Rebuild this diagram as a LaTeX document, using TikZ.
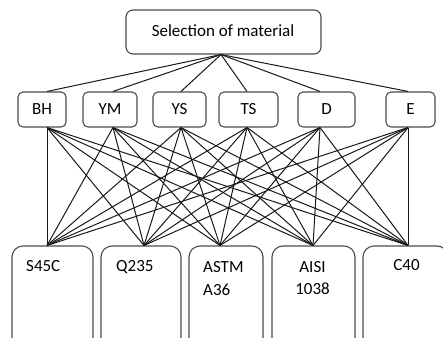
\documentclass[tikz,border=0pt]{standalone}
\usepackage{fontspec}
\setmainfont{Carlito}
\begin{document}
\begin{tikzpicture}[x=1pt,y=-1pt,
  box/.style={draw=black!70,line width=1.1pt,rounded corners=#1,inner sep=0pt},
  box/.default=5pt,
  lbl/.style={font=\fontsize{17}{22.5}\selectfont,inner sep=0pt},
  link/.style={line width=1pt,black!90}]
\useasboundingbox (0,0) rectangle (443,337);
\clip (0,0) rectangle (443,337);

% goal
\node[box=7pt,minimum width=195pt,minimum height=44pt] (goal) at (223.5,32) {};
\node[lbl] (goalt) at (223,31) {Selection of material};

% criteria: name / centre x / width / offset of the connection point
\foreach \n/\t/\cx/\w/\dx in {bh/BH/42/48/5, ym/YM/110/54/3, ys/YS/179.5/53/1.5,
                             ts/TS/248.5/59/-1.5, d/D/326.5/57/-6.5, e/E/410.5/49/-2.5}{
  \node[box,minimum width=\w pt,minimum height=35pt] (\n) at (\cx,109.5) {};
  \node[lbl] at (\n.center) {\t};
  \coordinate (\n-t) at ([xshift=\dx pt]\n.north);
  \coordinate (\n-b) at ([xshift=\dx pt]\n.south);
}

% alternatives
\foreach \n/\cx/\w/\dx in {s45c/52.5/81/-5.5, q235/141/80/3, astm/226/74/-6,
                          aisi/313.5/83/-0.5, c40/405.5/85/2.5}{
  \node[box=11pt,minimum width=\w pt,minimum height=104pt] (\n) at (\cx,298) {};
  \coordinate (\n-t) at ([xshift=\dx pt]\n.north);
}
% multi-line labels are placed by the baseline of their last line
\node[lbl,anchor=base west] at (26,271.5) {S45C};
\node[lbl,anchor=base west] at (116,271.5) {Q235};
\node[lbl,anchor=base west,align=left] at (203,295) {ASTM\\A36};
\node[lbl,anchor=base,align=center] at (312.5,294.5) {AISI\\1038};
\node[lbl,anchor=base] at (406.5,270.5) {C40};

% goal to criteria
\foreach \n in {bh,ym,ys,ts,d,e}
  \draw[link] ([xshift=-2.5pt]goal.south) -- (\n-t);

% every criterion to every alternative
\foreach \n in {bh,ym,ys,ts,d,e}
  \foreach \m in {s45c,q235,astm,aisi,c40}
    \draw[link] (\n-b) -- (\m-t);
\end{tikzpicture}
\end{document}
